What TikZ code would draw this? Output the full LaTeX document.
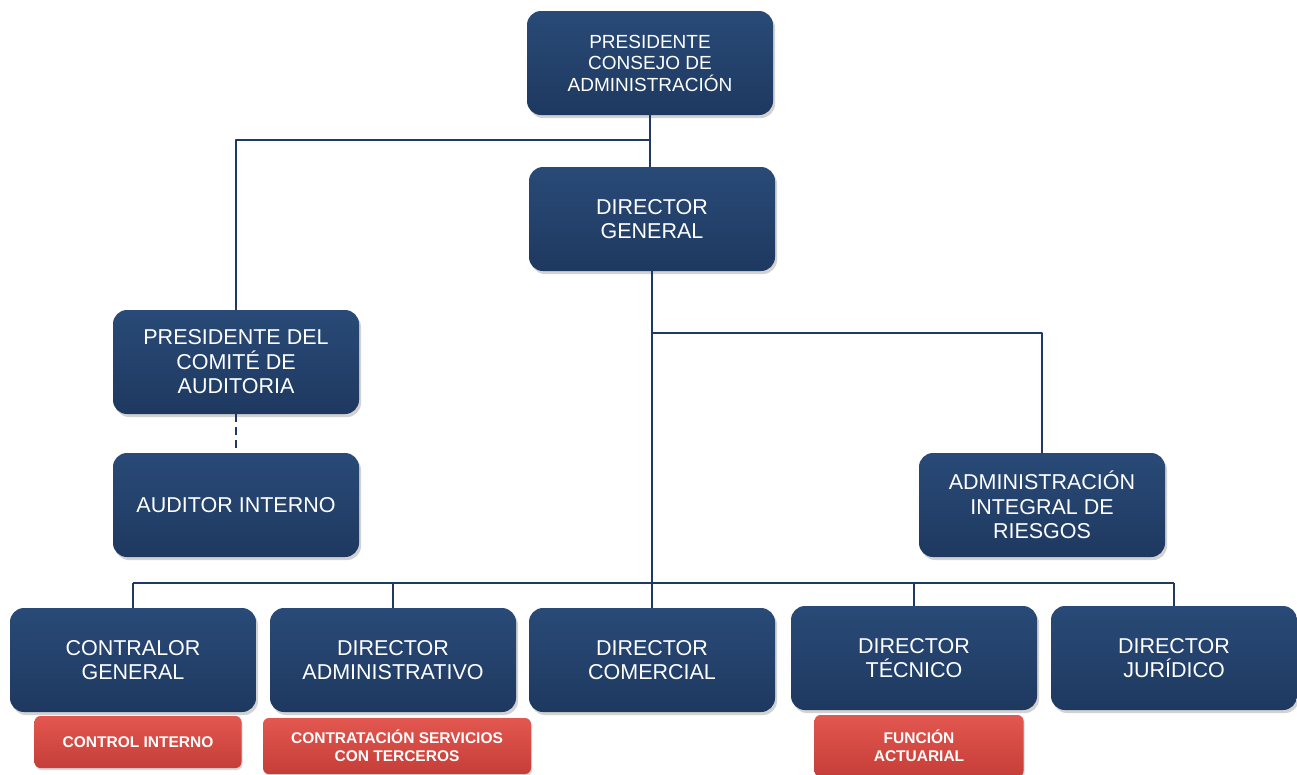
\documentclass[tikz,border=0pt]{standalone}
\usepackage{fontspec}
\setmainfont{Liberation Sans}
\usetikzlibrary{shadows}
\definecolor{azul}{HTML}{1E3960}
\definecolor{azulclaro}{HTML}{294A77}
\definecolor{linea}{HTML}{1F3864}
\definecolor{rojo}{HTML}{C63E39}
\definecolor{rojoclaro}{HTML}{E2574F}
\begin{document}
\begin{tikzpicture}[x=1pt,y=-1pt,line join=round,
	caja/.style={rounded corners=14pt,top color=azulclaro,bottom color=azul,text=white,align=center,
		minimum width=246pt,minimum height=104pt,inner sep=0pt,
		drop shadow={opacity=0.35,shadow xshift=2pt,shadow yshift=-3pt},
		font=\fontsize{21.5}{24.5}\selectfont},
	roja/.style={rounded corners=6pt,top color=rojoclaro,bottom color=rojo,text=white,align=center,
		inner sep=0pt,drop shadow={opacity=0.3,shadow xshift=1pt,shadow yshift=-2pt},
		font=\bfseries\fontsize{15.5}{18}\selectfont},
	conector/.style={draw=linea,line width=2.8pt}]
	\clip (0,0) rectangle (1297,774);
	\fill[white] (0,0) rectangle (1297,774);
	%cajas
	\node[caja,font=\fontsize{19}{21.5}\selectfont] (pca) at (650,63) {PRESIDENTE\\CONSEJO DE\\ADMINISTRACIÓN};
	\node[caja] (dg) at (652,219) {DIRECTOR\\GENERAL};
	\node[caja] (pcomite) at (236,362) {PRESIDENTE DEL\\COMITÉ DE\\AUDITORIA};
	\node[caja] (auditor) at (236,505) {AUDITOR INTERNO};
	\node[caja] (riesgos) at (1042,505) {ADMINISTRACIÓN\\INTEGRAL DE\\RIESGOS};
	\node[caja] (contralor) at (133,660) {CONTRALOR\\GENERAL};
	\node[caja] (dadmin) at (393,660) {DIRECTOR\\ADMINISTRATIVO};
	\node[caja] (dcom) at (652,660) {DIRECTOR\\COMERCIAL};
	\node[caja] (dtec) at (914,658) {DIRECTOR\\TÉCNICO};
	\node[caja] (djur) at (1174,658) {DIRECTOR\\JURÍDICO};
	%areas
	\node[roja,minimum width=207pt,minimum height=52pt] (cint) at (138,742) {CONTROL INTERNO};
	\node[roja,minimum width=268pt,minimum height=56pt] (cst) at (397,746) {CONTRATACIÓN SERVICIOS\\CON TERCEROS};
	\node[roja,minimum width=209pt,minimum height=62pt] (fact) at (919,746) {FUNCIÓN\\ACTUARIAL};
	%lineas
	\coordinate (j1) at (650,140);
	\coordinate (j2) at (652,333);
	\coordinate (bus) at (652,583);
	\draw[conector] (pca.south) -- (j1) -- (j1 |- dg.north);
	\draw[conector] (j1) -| (pcomite.north);
	\draw[conector] (dg.south) -- (bus);
	\draw[conector] (j2) -| (riesgos.north);
	\draw[conector,dash pattern=on 8pt off 5pt] (pcomite.south) -- (auditor.north);
	\draw[conector] (contralor.north |- bus) -- (djur.north |- bus);
	\foreach \n in {contralor,dadmin,dcom,dtec,djur}
	\draw[conector] (\n.north |- bus) -- (\n.north);
\end{tikzpicture}
\end{document}
